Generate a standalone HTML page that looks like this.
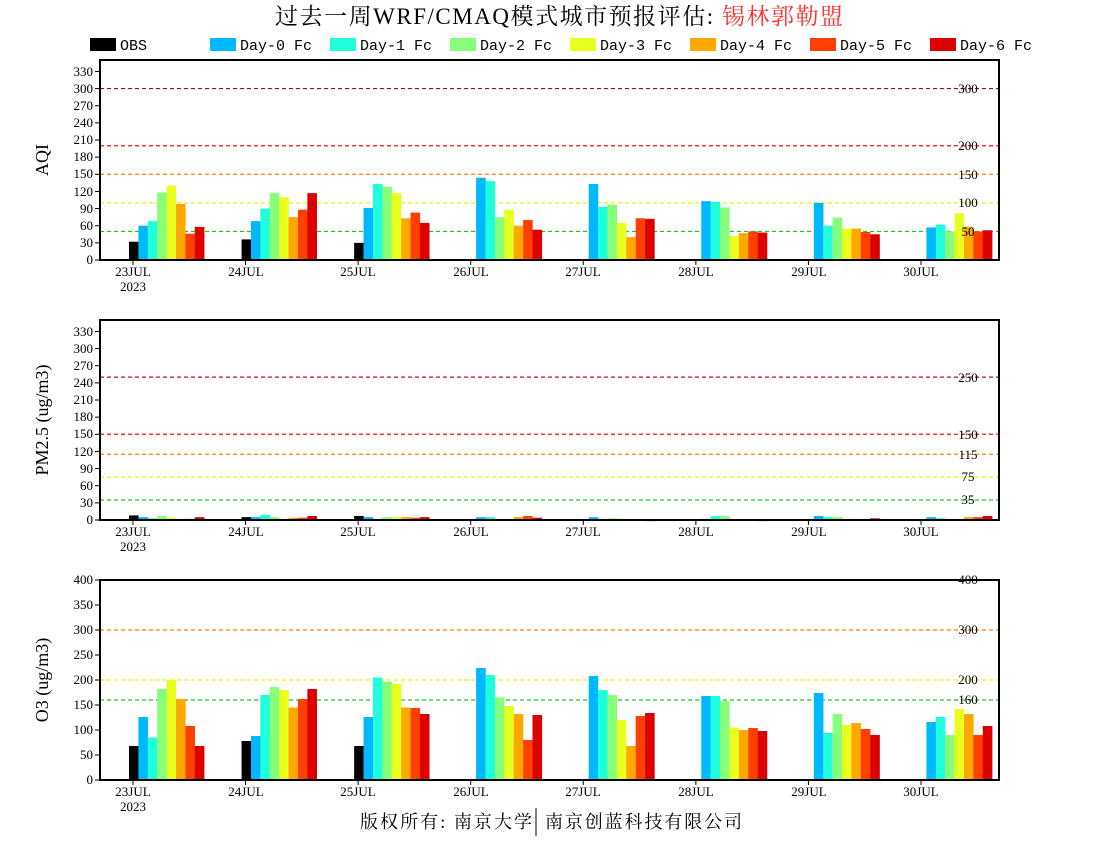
<!DOCTYPE html>
<html><head><meta charset="utf-8"><style>
html,body{margin:0;padding:0;background:#fff;}
svg{display:block;}
text{font-family:"Liberation Serif","Noto Serif CJK SC",serif;}
.t{font-size:13px;}
.lg{font-family:"Liberation Mono",monospace;font-size:15px;}
</style></head><body>
<svg id="s" width="1100" height="850" xmlns="http://www.w3.org/2000/svg">
<text x="275" y="24" font-size="23" textLength="568" lengthAdjust="spacing" style="font-family:'Liberation Serif','Noto Serif CJK SC',serif">过去一周WRF/CMAQ模式城市预报评估: <tspan fill="#ff3030">锡林郭勒盟</tspan></text>
<g class="lg">
<rect x="90" y="38" width="26" height="13" fill="#000"/><text x="120" y="50" class="lg">OBS</text>
<rect x="210" y="38" width="26" height="13" fill="#00b8ff"/><text x="240" y="50" class="lg">Day-0 Fc</text>
<rect x="330" y="38" width="26" height="13" fill="#20ffdc"/><text x="360" y="50" class="lg">Day-1 Fc</text>
<rect x="450" y="38" width="26" height="13" fill="#88ff78"/><text x="480" y="50" class="lg">Day-2 Fc</text>
<rect x="570" y="38" width="26" height="13" fill="#e8ff20"/><text x="600" y="50" class="lg">Day-3 Fc</text>
<rect x="690" y="38" width="26" height="13" fill="#ffa800"/><text x="720" y="50" class="lg">Day-4 Fc</text>
<rect x="810" y="38" width="26" height="13" fill="#ff4000"/><text x="840" y="50" class="lg">Day-5 Fc</text>
<rect x="930" y="38" width="26" height="13" fill="#dd0000"/><text x="960" y="50" class="lg">Day-6 Fc</text>
</g>
<line x1="100" y1="59.5" x2="1000" y2="59.5" stroke="#000" stroke-width="1"/>
<g id="plots"></g>
<g class="t" text-anchor="end">
<text x="93" y="264">0</text><text x="93" y="247">30</text><text x="93" y="230">60</text><text x="93" y="213">90</text><text x="93" y="196">120</text><text x="93" y="178">150</text><text x="93" y="161">180</text><text x="93" y="144">210</text><text x="93" y="127">240</text><text x="93" y="110">270</text><text x="93" y="93">300</text><text x="93" y="76">330</text>
<text x="93" y="524">0</text><text x="93" y="507">30</text><text x="93" y="490">60</text><text x="93" y="473">90</text><text x="93" y="456">120</text><text x="93" y="438">150</text><text x="93" y="421">180</text><text x="93" y="404">210</text><text x="93" y="387">240</text><text x="93" y="370">270</text><text x="93" y="353">300</text><text x="93" y="336">330</text>
<text x="93" y="784">0</text><text x="93" y="759">50</text><text x="93" y="734">100</text><text x="93" y="709">150</text><text x="93" y="684">200</text><text x="93" y="659">250</text><text x="93" y="634">300</text><text x="93" y="609">350</text><text x="93" y="584">400</text>
</g>
<g class="t" text-anchor="middle">
<text x="968" y="93">300</text><text x="968" y="150">200</text><text x="968" y="179">150</text><text x="968" y="207">100</text><text x="968" y="236">50</text>
<text x="968" y="382">250</text><text x="968" y="439">150</text><text x="968" y="459">115</text><text x="968" y="481">75</text><text x="968" y="504">35</text>
<text x="968" y="584">400</text><text x="968" y="634">300</text><text x="968" y="684">200</text><text x="968" y="704">160</text>
</g>
<g class="t" text-anchor="middle">
<text x="133" y="276">23JUL</text><text x="133" y="291">2023</text><text x="246" y="276">24JUL</text><text x="358" y="276">25JUL</text><text x="471" y="276">26JUL</text><text x="583" y="276">27JUL</text><text x="696" y="276">28JUL</text><text x="809" y="276">29JUL</text><text x="921" y="276">30JUL</text>
<text x="133" y="536">23JUL</text><text x="133" y="551">2023</text><text x="246" y="536">24JUL</text><text x="358" y="536">25JUL</text><text x="471" y="536">26JUL</text><text x="583" y="536">27JUL</text><text x="696" y="536">28JUL</text><text x="809" y="536">29JUL</text><text x="921" y="536">30JUL</text>
<text x="133" y="796">23JUL</text><text x="133" y="811">2023</text><text x="246" y="796">24JUL</text><text x="358" y="796">25JUL</text><text x="471" y="796">26JUL</text><text x="583" y="796">27JUL</text><text x="696" y="796">28JUL</text><text x="809" y="796">29JUL</text><text x="921" y="796">30JUL</text>
</g>
<text font-size="18" text-anchor="middle" transform="translate(48,160) rotate(-90)">AQI</text>
<text font-size="18" text-anchor="middle" transform="translate(48,420) rotate(-90)">PM2.5 (ug/m3)</text>
<text font-size="18" text-anchor="middle" transform="translate(48,680) rotate(-90)">O3 (ug/m3)</text>
<text x="360" y="828" font-size="18" textLength="172" lengthAdjust="spacing" style="font-family:'Liberation Serif','Noto Serif CJK SC',serif">版权所有: 南京大学</text>
<line x1="536" y1="808" x2="536" y2="836" stroke="#000" stroke-width="1"/>
<text x="545" y="828" font-size="18" textLength="197" lengthAdjust="spacing" style="font-family:'Liberation Serif','Noto Serif CJK SC',serif">南京创蓝科技有限公司</text>
</svg>
<script>
var NS="http://www.w3.org/2000/svg",g=document.getElementById("plots");
function el(t,a){var e=document.createElementNS(NS,t);for(var k in a)e.setAttribute(k,a[k]);g.appendChild(e);return e;}
var cols=["#000","#00b8ff","#20ffdc","#88ff78","#e8ff20","#ffa800","#ff4000","#dd0000"];
var panels=[
{top:60,max:350,ticks:[0,30,60,90,120,150,180,210,240,270,300,330],
lines:[[300,"#a0004a"],[200,"#ff1010"],[150,"#ff8000"],[100,"#f0f000"],[50,"#10d010"]],
d:[[32,60,68,118,130,98,46,58],[36,68,90,117,110,75,88,117],[30,91,133,128,117,73,83,65],[null,144,138,75,88,60,70,53],[null,133,93,97,65,40,73,72],[null,103,102,92,42,47,50,48],[null,100,60,74,55,55,49,45],[null,57,62,50,82,58,50,52]]},
{top:320,max:350,ticks:[0,30,60,90,120,150,180,210,240,270,300,330],
lines:[[250,"#c00060"],[150,"#ff1010"],[115,"#ff8000"],[75,"#f0f000"],[35,"#10d010"]],
d:[[8,5,3,7,4,2,2,5],[5,5,9,5,2,4,4,7],[7,5,2,5,5,5,4,5],[null,5,5,2,2,5,7,4],[null,5,2,3,2,0,0,-2],[null,2,7,7,2,0,0,-2],[null,7,5,5,2,2,0,3],[null,5,3,2,2,5,5,7]]},
{top:580,max:400,ticks:[0,50,100,150,200,250,300,350,400],
lines:[[400,"#ff1010"],[300,"#ff8000"],[200,"#f0f000"],[160,"#10d010"]],
d:[[68,126,85,182,200,162,108,68],[78,88,170,186,180,145,162,182],[68,126,205,197,192,145,144,132],[null,224,210,165,148,132,80,130],[null,208,180,170,120,68,128,134],[null,168,168,158,105,100,104,98],[null,174,94,132,110,114,102,90],[null,116,126,90,142,132,90,108]]}];
panels.forEach(function(p){
 var b=p.top+200,s=200/p.max;
 p.lines.forEach(function(l){var y=b-l[0]*s;el("line",{x1:100,x2:1000,y1:y,y2:y,stroke:l[1],"stroke-width":1.2,"stroke-dasharray":"4,3"});});
 p.d.forEach(function(day,i){var x0=133+112.57*i-4;
  day.forEach(function(v,j){if(v===null)return;var x=x0+j*9.4;
   if(v>=0)el("rect",{x:x,y:b-v*s,width:9.6,height:v*s,fill:cols[j]});
   else el("rect",{x:x,y:b,width:9.6,height:-v*s,fill:cols[j]});});
  el("line",{x1:133+112.57*i,x2:133+112.57*i,y1:b,y2:b+5,stroke:"#000","stroke-width":1});
 });
 p.ticks.forEach(function(t){var y=b-t*s;el("line",{x1:95,x2:100,y1:y,y2:y,stroke:"#000","stroke-width":1});});
 el("rect",{x:100,y:p.top,width:899,height:200,fill:"none",stroke:"#000","stroke-width":2});
});
</script>
</body></html>
